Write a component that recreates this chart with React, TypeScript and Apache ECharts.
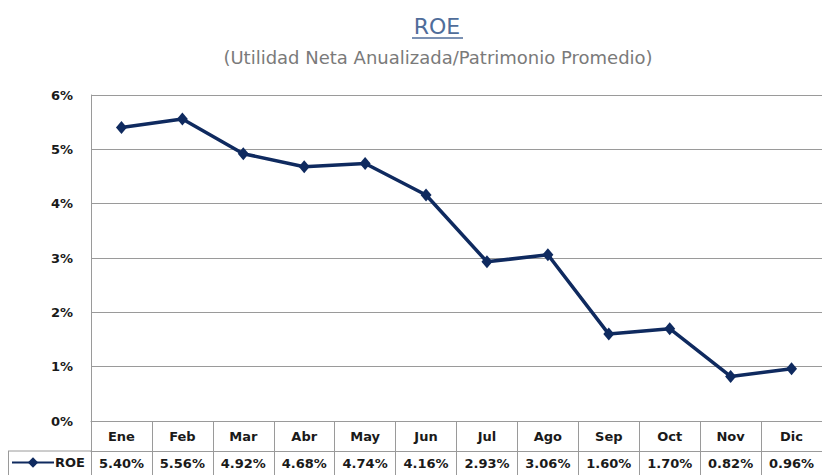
import React, { useEffect, useRef } from "react";
import * as echarts from "echarts";

const months = ["Ene", "Feb", "Mar", "Abr", "May", "Jun", "Jul", "Ago", "Sep", "Oct", "Nov", "Dic"];
const roe = [5.4, 5.56, 4.92, 4.68, 4.74, 4.16, 2.93, 3.06, 1.6, 1.7, 0.82, 0.96];
const seriesName = "ROE";
const titleText = "ROE";
const subtitleText = "(Utilidad Neta Anualizada/Patrimonio Promedio)";
const yMin = 0;
const yMax = 6;
const yStep = 1;

const FONT = "DejaVu Sans";
const LINE_COLOR = "#0f2a5f";
const GRID_COLOR = "#9a9a9a";

export default function App() {
  const ref = useRef<HTMLDivElement>(null);
  useEffect(() => {
    if (!ref.current) return;
    const chart = echarts.init(ref.current, undefined, { renderer: "svg" });
    const gridLeft = 91;
    const gridTop = 95;
    const gridBottom = 54;
    const H = 475;
    const axisY = H - gridBottom;
    const row1 = 30;
    const valueLabels = roe.map((v) => v.toFixed(2) + "%");
    chart.setOption({
      animation: false,
      backgroundColor: "#ffffff",
      grid: { left: gridLeft, right: -10, top: gridTop, bottom: gridBottom, containLabel: false },
      legend: {
        left: 11,
        top: axisY + row1 + 5,
        itemWidth: 42,
        itemHeight: 13,
        itemGap: 0,
        padding: 0,
        textStyle: { fontFamily: FONT, fontWeight: "bold", fontSize: 13, color: "#1a1a1a", padding: [0, 0, 0, -4] },
        data: [seriesName],
      },
      graphic: [
        {
          type: "text",
          x: 437,
          y: 26,
          style: { text: titleText, font: `22px "${FONT}"`, fill: "#4f6d9a", align: "center", verticalAlign: "middle" },
        },
        {
          type: "line",
          shape: { x1: 412, y1: 38, x2: 463, y2: 38 },
          style: { stroke: "#4f6d9a", lineWidth: 1.5 },
        },
        {
          type: "text",
          x: 438,
          y: 57,
          style: { text: subtitleText, font: `18px "${FONT}"`, fill: "#7a7a7a", align: "center", verticalAlign: "middle" },
        },
        {
          type: "line",
          shape: { x1: 8, y1: axisY + row1, x2: gridLeft, y2: axisY + row1 },
          style: { stroke: GRID_COLOR, lineWidth: 1 },
        },
        {
          type: "line",
          shape: { x1: 8.5, y1: axisY + row1, x2: 8.5, y2: H },
          style: { stroke: GRID_COLOR, lineWidth: 1 },
        },
      ],
      xAxis: [
        {
          type: "category",
          data: months,
          boundaryGap: true,
          position: "bottom",
          axisLine: { show: true, lineStyle: { color: GRID_COLOR, width: 1 } },
          axisTick: { show: true, length: gridBottom, lineStyle: { color: GRID_COLOR, width: 1 } },
          axisLabel: { margin: 9, fontFamily: FONT, fontWeight: "bold", fontSize: 13, color: "#1a1a1a", interval: 0 },
          splitLine: { show: false },
        },
        {
          type: "category",
          data: valueLabels,
          boundaryGap: true,
          position: "bottom",
          offset: row1,
          axisLine: { show: true, lineStyle: { color: GRID_COLOR, width: 1 } },
          axisTick: { show: false },
          axisLabel: { margin: 6, fontFamily: FONT, fontWeight: "bold", fontSize: 13, color: "#1a1a1a", interval: 0 },
          splitLine: { show: false },
        },
      ],
      yAxis: {
        type: "value",
        min: yMin,
        max: yMax,
        interval: yStep,
        axisLine: { show: true, lineStyle: { color: GRID_COLOR, width: 1 } },
        axisTick: { show: false },
        axisLabel: {
          formatter: "{value}%",
          margin: 18,
          fontFamily: FONT,
          fontWeight: "bold",
          fontSize: 13,
          color: "#1a1a1a",
        },
        splitLine: { show: true, lineStyle: { color: GRID_COLOR, width: 1 } },
      },
      series: [
        {
          name: seriesName,
          type: "line",
          data: roe,
          xAxisIndex: 0,
          symbol: "diamond",
          symbolSize: [11, 13],
          lineStyle: { color: LINE_COLOR, width: 3.5 },
          itemStyle: { color: LINE_COLOR },
        },
      ],
    });
    return () => chart.dispose();
  }, []);
  return <div ref={ref} style={{ position: "fixed", left: 0, top: 0, width: 822, height: 475 }} />;
}
